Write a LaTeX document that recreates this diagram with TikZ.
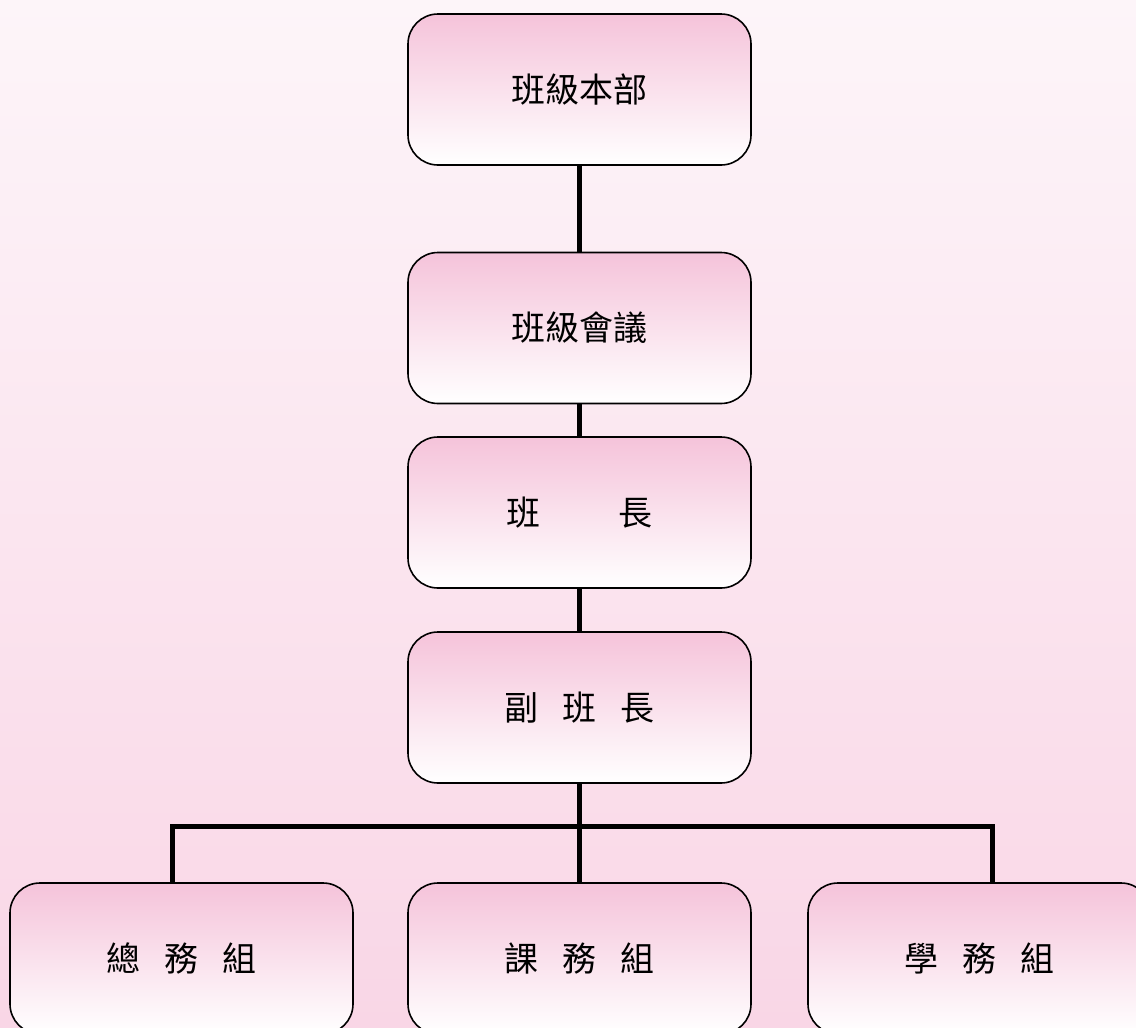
\documentclass[tikz,border=0pt]{standalone}
\usepackage{fontspec}
\setmainfont{Noto Sans CJK TC}
\definecolor{bgtop}{RGB}{253,245,249}
\definecolor{bgbot}{RGB}{249,214,230}
\definecolor{boxtop}{RGB}{245,195,218}
\definecolor{boxmid}{RGB}{248,212,228}
\begin{document}
\begin{tikzpicture}[x=1pt,y=-1pt,
  box/.style={draw=black, line width=1.6pt, rounded corners=30pt,
    minimum width=343pt, minimum height=151pt, inner sep=0pt,
    top color=boxtop, middle color=boxmid, bottom color=white,
    font=\fontsize{34}{38}\selectfont},
  conn/.style={draw=black, line width=5pt}]
\useasboundingbox (0,0) rectangle (1136,1028);
\clip (0,0) rectangle (1136,1028);
\shade[top color=bgtop, bottom color=bgbot] (0,0) rectangle (1136,1028);
% main column
\node[box] (b1) at (579.5,89.5) {班級本部};
\node[box] (b2) at (579.5,328) {班級會議};
\node[box] (b3) at (579.5,512.5) {班\hspace{2.3em}長};
\node[box] (b4) at (579.5,707.5) {副\hspace{0.7em}班\hspace{0.7em}長};
% groups
\node[box] (g1) at (181.5,958.5) {總\hspace{0.7em}務\hspace{0.7em}組};
\node[box] (g2) at (579.5,958.5) {課\hspace{0.7em}務\hspace{0.7em}組};
\node[box] (g3) at (979.5,958.5) {學\hspace{0.7em}務\hspace{0.7em}組};
% connectors
\coordinate (j) at (579.5,826);
\coordinate (jl) at (172,826);
\coordinate (jr) at (992,826);
\draw[conn] (b1.south) -- (b2.north);
\draw[conn] (b2.south) -- (b3.north);
\draw[conn] (b3.south) -- (b4.north);
\draw[conn] (b4.south) -- (j);
\draw[conn] (g1.north -| jl) -- (jl) -- (jr) -- (g3.north -| jr);
\draw[conn] (j) -- (g2.north);
\end{tikzpicture}
\end{document}
